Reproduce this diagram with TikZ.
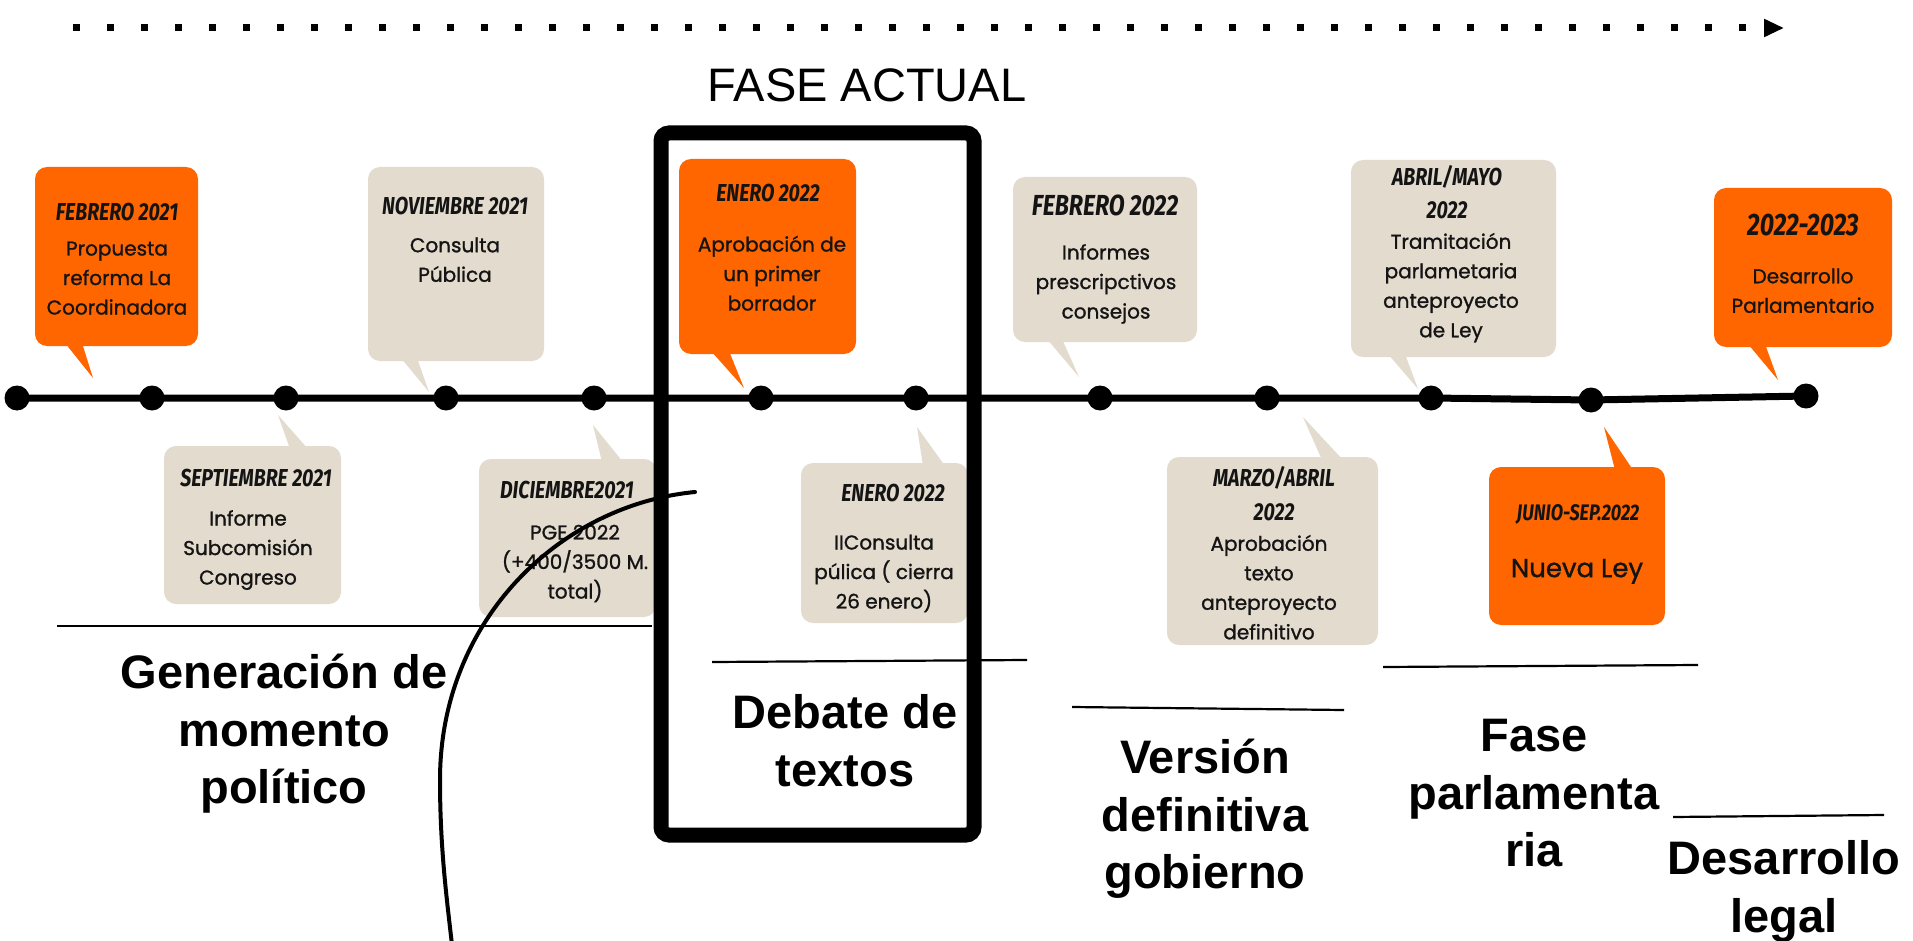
\documentclass[tikz,border=0pt]{standalone}
\usepackage{fontspec}
\setmainfont{Liberation Sans}
\newfontfamily\bodyfont{Poppins}[FakeBold=1.2]
\newfontfamily\headfont{Fira Sans}[FakeStretch=0.8]
\usetikzlibrary{arrows.meta}
\definecolor{orng}{RGB}{255,102,0}
\definecolor{beige}{RGB}{227,219,206}
\definecolor{ink}{RGB}{20,20,20}
\newcommand\topst{\rule{0pt}{1em}}
\newcommand\botst{\rule[-0.3em]{0pt}{0.3em}}
\newcommand\balloon[6]{\node[#1, minimum width={#5-#3}, minimum height={#6-#4}] (#2) at ({(#3+#5)/2},{(#4+#6)/2}) {};}
\tikzset{
  balloonbox/.style={rectangle, rounded corners=12pt, inner sep=0pt, draw=none},
  obox/.style={balloonbox, fill=orng},
  bbox/.style={balloonbox, fill=beige},
  head/.style={font=\headfont\bfseries\itshape\fontsize{24.5}{33.5}\selectfont, text=ink, align=center, inner sep=0pt},
  headD/.style={head, font=\headfont\bfseries\itshape\fontsize{29}{36}\selectfont},
  headF/.style={head, font=\headfont\bfseries\itshape\fontsize{31}{38}\selectfont},
  headK/.style={head, font=\headfont\bfseries\itshape\fontsize{22.5}{30}\selectfont},
  body/.style={font=\bodyfont\fontsize{20}{29.5}\selectfont, text=ink, align=center, inner sep=0pt},
  bodyK/.style={body, font=\bodyfont\fontsize{26}{32}\selectfont},
  lab/.style={font=\bfseries\fontsize{47}{57.5}\selectfont, text=black, align=center, inner sep=0pt},
  tdot/.style={circle, fill=black, minimum size=25pt, inner sep=0pt},
  tline/.style={line width=7pt, black},
  uline/.style={line width=2.2pt, black},
  phase/.style={draw=black, line width=15pt, rounded corners=8pt, inner sep=0pt, fill=none}
}
\begin{document}
\begin{tikzpicture}[x=1pt,y=-1pt]
\useasboundingbox (0,0) rectangle (1913,941);
\fill[white] (0,0) rectangle (1913,941);

% top dotted arrow
\coordinate (ta) at (73,28);
\coordinate (tb) at (1784,28);
\draw[line width=7pt, dash pattern=on 7pt off 27pt, -{Triangle[length=20pt,width=17pt]}] (ta) -- (tb);

% FASE ACTUAL
\node[font=\fontsize{47}{56}\selectfont, anchor=base, inner sep=0pt] (fa) at (867,102) {FASE ACTUAL};

% timeline
\foreach \i/\x/\y in {1/17/398, 2/152/398, 3/286/398, 4/446/398, 5/594/398, 6/761/398, 7/916/398, 8/1100/398, 9/1267/398, 10/1431/398, 11/1591/400, 12/1806/396}
  \node[tdot] (d\i) at (\x,\y) {};
\draw[tline] (d1.center) -- (d10.center) -- (d11.center) -- (d12.center);

% balloons top
\balloon{obox}{bA}{35}{167}{198}{346}
\fill[orng] (65,343) -- (93,378) -- (82,343) -- cycle;
\balloon{bbox}{bB}{368}{167}{544}{361}
\fill[beige] (401,358) -- (429,392) -- (417,358) -- cycle;
\balloon{obox}{bC}{679}{159}{856}{354}
\fill[orng] (711,351) -- (744,388) -- (729,351) -- cycle;
\balloon{bbox}{bD}{1013}{177}{1197}{342}
\fill[beige] (1047,339) -- (1079,377) -- (1062,339) -- cycle;
\balloon{bbox}{bE}{1351}{160}{1556}{357}
\fill[beige] (1388,354) -- (1418,389) -- (1405,354) -- cycle;
\balloon{obox}{bF}{1714}{188}{1892}{347}
\fill[orng] (1748,344) -- (1778,380) -- (1765,344) -- cycle;

% balloons bottom
\balloon{bbox}{bG}{164}{446}{341}{604}
\fill[beige] (290,449) -- (278,415) -- (308,449) -- cycle;
\balloon{bbox}{bH}{479}{459}{656}{617}
\fill[beige] (602,462) -- (593,425) -- (623,462) -- cycle;
\balloon{bbox}{bI}{801}{463}{968}{623}
\fill[beige] (923,466) -- (917,427) -- (945,466) -- cycle;
\balloon{bbox}{bJ}{1167}{457}{1378}{645}
\fill[beige] (1322,460) -- (1303,417) -- (1343,460) -- cycle;
\balloon{obox}{bK}{1489}{467}{1665}{625}
\fill[orng] (1615,470) -- (1604,427) -- (1633,470) -- cycle;

% balloon texts
\node[head] (hA) at (117,212) {\topst FEBRERO 2021\botst};
\node[body] (tA) at (117,278) {\topst Propuesta\\reforma La\\Coordinadora\botst};
\node[head] (hB) at (455,206) {\topst NOVIEMBRE 2021\botst};
\node[body] (tB) at (455,260) {\topst Consulta\\Pública\botst};
\node[head] (hC) at (768,193) {\topst ENERO 2022\botst};
\node[body] (tC) at (772,274) {\topst Aprobación de\\un primer\\borrador\botst};
\node[headD] (hD) at (1105,205) {\topst FEBRERO 2022\botst};
\node[body] (tD) at (1106,282) {\topst Informes\\prescripctivos\\consejos\botst};
\node[head] (hE) at (1447,193.5) {\topst ABRIL/MAYO\\2022\botst};
\node[body] (tE) at (1451,286) {\topst Tramitación\\parlametaria\\anteproyecto\\de Ley\botst};
\node[headF] (hF) at (1803,225) {\topst 2022-2023\botst};
\node[body] (tF) at (1803,291) {\topst Desarrollo\\Parlamentario\botst};
\node[head] (hG) at (256,478) {\topst SEPTIEMBRE 2021\botst};
\node[body] (tG) at (248,548) {\topst Informe\\Subcomisión\\Congreso\botst};
\node[head] (hH) at (567,490) {\topst DICIEMBRE2021\botst};
\node[body] (tH) at (575,562) {\topst PGE 2022\\(+400/3500 M.\\total)\botst};
\node[head] (hI) at (893,493) {\topst ENERO 2022\botst};
\node[body] (tI) at (884,572) {\topst IIConsulta\\púlica ( cierra\\26 enero)\botst};
\node[head] (hJ) at (1274,495) {\topst MARZO/ABRIL\\2022\botst};
\node[body] (tJ) at (1269,588) {\topst Aprobación\\texto\\anteproyecto\\definitivo\botst};
\node[headK] (hK) at (1578,513) {\topst JUNIO-SEP.2022\botst};
\node[bodyK] (tK) at (1577,568) {\topst Nueva Ley\botst};

% current phase frame
\node[phase, minimum width=313pt, minimum height=702pt] (fase) at (817.5,484) {};

% underlines
\draw[uline] (57,626) -- (652,626);
\draw[uline] (712,662) -- (1027,660);
\draw[uline] (1072,707) -- (1344,710);
\draw[uline] (1383,667) -- (1698,665);
\draw[uline] (1673,817) -- (1884,815);

% phase labels
\node[lab] (L1) at (284,730) {\topst Generación de\\momento\\político\botst};
\node[lab] (L2) at (845,741) {\topst Debate de\\textos\botst};
\node[lab] (L3) at (1205,815) {\topst Versión\\definitiva\\gobierno\botst};
\node[lab] (L4) at (1534,793) {\topst Fase\\parlamenta\\ria\botst};
\node[lab] (L5) at (1784,887) {\topst Desarrollo\\legal\botst};

% hand-drawn curve
\coordinate (ca) at (695,492);
\coordinate (cb) at (440,780);
\coordinate (cc) at (452,945);
\draw[line width=4pt, line cap=round] (ca) .. controls (560,505) and (440,620) .. (cb) .. controls (440,850) and (447,900) .. (cc);
\end{tikzpicture}
\end{document}
